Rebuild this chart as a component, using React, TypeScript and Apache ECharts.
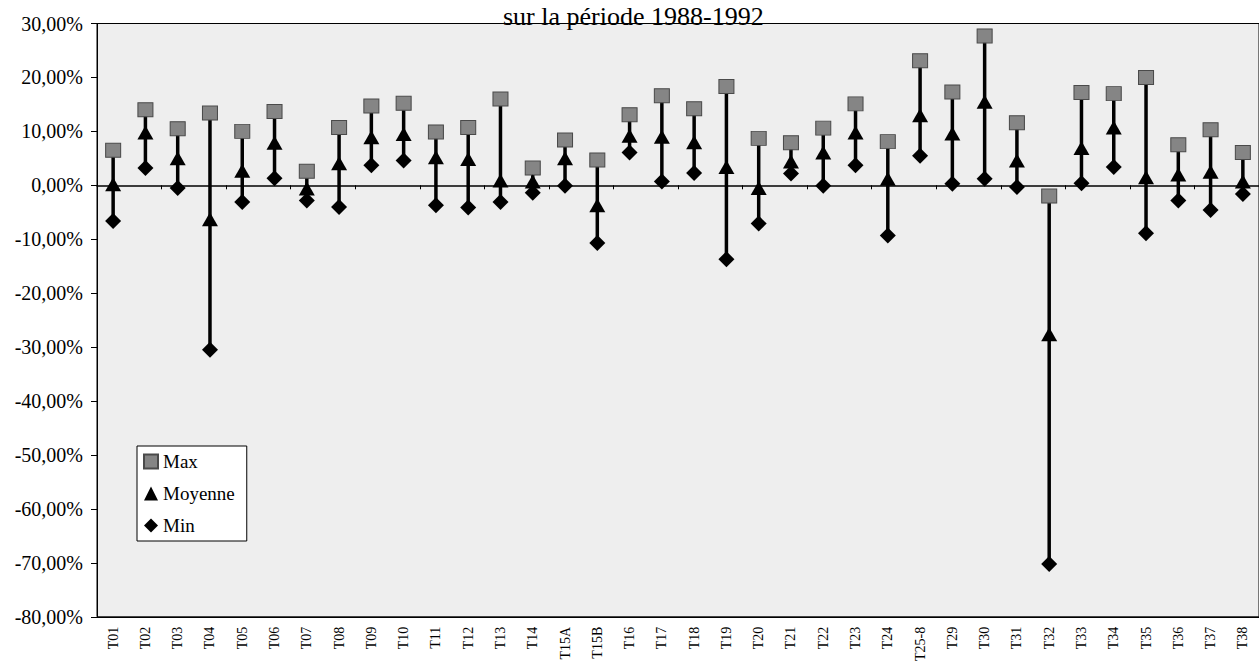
import React, { useEffect, useRef } from "react";
import * as echarts from "echarts";

const titleText = "sur la période 1988-1992";
const categories = ["T01","T02","T03","T04","T05","T06","T07","T08","T09","T10","T11","T12","T13","T14","T15A","T15B","T16","T17","T18","T19","T20","T21","T22","T23","T24","T25-8","T29","T30","T31","T32","T33","T34","T35","T36","T37","T38"];
const maxVals = [6.5,14.0,10.5,13.4,10.0,13.7,2.6,10.7,14.7,15.2,9.9,10.7,16.0,3.2,8.4,4.7,13.1,16.6,14.2,18.3,8.7,7.9,10.6,15.1,8.1,23.1,17.3,27.7,11.6,-2.0,17.2,17.0,20.0,7.5,10.3,6.1];
const meanVals = [0.2,9.8,5.0,-6.3,2.7,7.9,-0.6,4.1,8.9,9.5,5.2,4.9,0.9,0.7,5.0,-3.7,9.2,9.0,8.0,3.4,-0.5,4.4,6.1,9.8,1.2,13.0,9.6,15.5,4.6,-27.6,6.9,10.7,1.5,2.0,2.5,0.7];
const minVals = [-6.6,3.2,-0.5,-30.5,-3.1,1.3,-2.8,-4.0,3.7,4.6,-3.7,-4.1,-3.1,-1.4,-0.1,-10.7,6.1,0.7,2.3,-13.7,-7.1,2.2,-0.1,3.7,-9.3,5.5,0.3,1.2,-0.3,-70.2,0.4,3.4,-8.9,-2.8,-4.6,-1.6];
const yMin = -80;
const yMax = 30;
const yStep = 10;

const FONT = "Liberation Serif";

export default function App() {
  const ref = useRef<HTMLDivElement>(null);
  useEffect(() => {
    if (!ref.current) return;
    const chart = echarts.init(ref.current, null, { renderer: "svg" });
    const rangeData = categories.map((c, i) => [i, minVals[i], maxVals[i]]);
    chart.setOption({
      animation: false,
      backgroundColor: "#ffffff",
      textStyle: { fontFamily: FONT },
      title: {
        text: titleText,
        left: 503,
        top: 3,
        padding: 0,
        textStyle: { fontFamily: FONT, fontSize: 26, fontWeight: "normal", color: "#000" },
      },
      legend: {
        orient: "vertical",
        left: 137,
        top: 446,
        backgroundColor: "#ffffff",
        borderColor: "#000",
        borderWidth: 1,
        borderRadius: 0,
        padding: [6, 12, 6, 6],
        itemGap: 13,
        itemWidth: 14,
        itemHeight: 14,
        textStyle: { fontFamily: FONT, fontSize: 19, color: "#000" },
        data: [
          { name: "Max", icon: "rect" },
          { name: "Moyenne", icon: "triangle" },
          { name: "Min", icon: "diamond" },
        ],
      },
      grid: {
        left: 97,
        top: 23.5,
        right: -8,
        bottom: 42.5,
        show: true,
        backgroundColor: "#eeeeee",
        borderColor: "#000",
        borderWidth: 1,
        containLabel: false,
      },
      xAxis: [
        {
          type: "category",
          data: categories,
          position: "bottom",
          axisLine: { show: true, onZero: false, lineStyle: { color: "#000", width: 1 } },
          axisTick: { show: false },
          axisLabel: {
            interval: 0,
            rotate: 90,
            margin: 10,
            fontFamily: FONT,
            fontSize: 14,
            color: "#000",
          },
          splitLine: { show: false },
        },
        {
          type: "category",
          data: categories,
          position: "top",
          axisLine: { show: true, onZero: true, lineStyle: { color: "#000", width: 1.5 } },
          axisTick: { show: true, inside: true, length: 4, lineStyle: { color: "#000" } },
          axisLabel: { show: false },
          splitLine: { show: false },
        },
      ],
      yAxis: {
        type: "value",
        min: yMin,
        max: yMax,
        interval: yStep,
        axisLine: { show: true, lineStyle: { color: "#000", width: 1 } },
        axisTick: { show: true, length: 6, lineStyle: { color: "#000" } },
        axisLabel: {
          margin: 14,
          fontFamily: FONT,
          fontSize: 20,
          color: "#000",
          formatter: (v: number) => v.toFixed(2).replace(".", ",") + "%",
        },
        splitLine: { show: false },
      },
      series: [
        {
          type: "custom",
          name: "range",
          xAxisIndex: 0,
          z: 2,
          data: rangeData,
          encode: { x: 0, y: [1, 2] },
          renderItem: (params: any, api: any) => {
            const x = api.value(0);
            const lo = api.coord([x, api.value(1)]);
            const hi = api.coord([x, api.value(2)]);
            return {
              type: "line",
              shape: { x1: lo[0], y1: lo[1], x2: hi[0], y2: hi[1] },
              style: { stroke: "#000", lineWidth: 3.5 },
            };
          },
        },
        {
          type: "scatter",
          name: "Max",
          xAxisIndex: 0,
          z: 3,
          symbol: "rect",
          symbolSize: [15, 14],
          itemStyle: { color: "#858585", borderColor: "#4a4a4a", borderWidth: 1, opacity: 1 },
          data: maxVals,
        },
        {
          type: "scatter",
          name: "Moyenne",
          xAxisIndex: 0,
          z: 4,
          symbol: "triangle",
          symbolSize: [16, 14],
          itemStyle: { color: "#000", opacity: 1 },
          data: meanVals,
        },
        {
          type: "scatter",
          name: "Min",
          xAxisIndex: 0,
          z: 5,
          symbol: "diamond",
          symbolSize: [16, 16],
          itemStyle: { color: "#000", opacity: 1 },
          data: minVals,
        },
      ],
    });
    return () => chart.dispose();
  }, []);
  return (
    <div
      ref={ref}
      style={{ position: "absolute", left: 0, top: 0, width: 1259, height: 664 }}
    />
  );
}
